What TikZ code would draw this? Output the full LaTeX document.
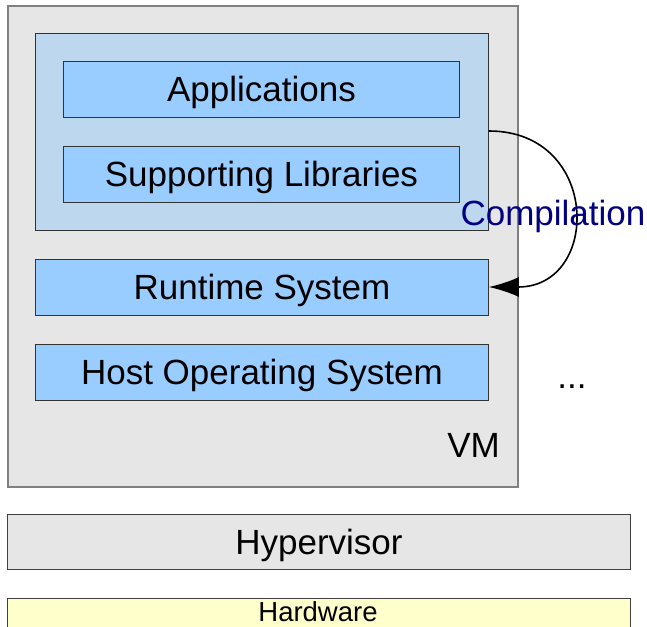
\documentclass[tikz,border=0pt]{standalone}
\usepackage{fontspec}
\setmainfont{Liberation Sans}
\usetikzlibrary{arrows.meta}
\definecolor{vmgray}{HTML}{E6E6E6}
\definecolor{vmborder}{HTML}{808080}
\definecolor{paleblue}{HTML}{BDD7EF}
\definecolor{layerblue}{HTML}{99CCFF}
\definecolor{hwyellow}{HTML}{FFFFCC}
\definecolor{navytext}{HTML}{000080}
\tikzset{
  bigtext/.style={font=\fontsize{35}{35}\selectfont, text height=25pt, text depth=0pt},
  layer/.style={draw=black!80, line width=0.9pt, fill=layerblue, anchor=north west, inner sep=0pt, bigtext},
  graybar/.style={draw=black!75, line width=0.9pt, fill=vmgray, anchor=north west, inner sep=0pt, bigtext},
  plain/.style={inner sep=0pt, font=\fontsize{35}{35}\selectfont},
}
\begin{document}
\begin{tikzpicture}[x=1pt,y=-1pt]
\useasboundingbox (0,0) rectangle (647,626);
% VM container
\node[draw=vmborder, line width=1.6pt, fill=vmgray, anchor=north west, minimum width=510pt, minimum height=481pt, inner sep=0pt] (vm) at (7,5) {};
% application group
\node[draw=black!80, line width=0.9pt, fill=paleblue, anchor=north west, minimum width=453pt, minimum height=197pt, inner sep=0pt] (grp) at (35,33) {};
\node[layer, minimum width=396pt, minimum height=56pt] (app) at (63,61) {Applications};
\node[layer, minimum width=396pt, minimum height=56pt] (lib) at (63,146) {Supporting Libraries};
\node[layer, minimum width=453pt, minimum height=56pt] (rt) at (35,259) {Runtime System};
\node[layer, minimum width=453pt, minimum height=56pt] (os) at (35,344) {Host Operating System};
\node[plain, anchor=base east] (vmlabel) at (500,457) {VM};
\node[plain, anchor=base] (dots) at (572,388) {...};
% hypervisor and hardware
\node[graybar, minimum width=623pt, minimum height=55pt] (hyp) at (7,514) {Hypervisor};
\node[draw=black!75, line width=0.9pt, fill=hwyellow, anchor=north west, inner sep=0pt, minimum width=623pt, minimum height=30pt] (hw) at (7,598) {};
\node[inner sep=0pt, font=\fontsize{27.5}{27.5}\selectfont, anchor=base] (hwlabel) at (318,621) {Hardware};
% compilation arrow
\coordinate (cstart) at (grp.east |- 0,131);
\coordinate (cend) at (rt.east |- 0,287);
\draw[line width=1.6pt, -{Latex[length=30pt,width=20pt]}] (cstart) .. controls (601,131) and (601,287) .. (cend);
\node[plain, anchor=base, text=navytext] (comp) at (553,225) {Compilation};
\end{tikzpicture}
\end{document}
